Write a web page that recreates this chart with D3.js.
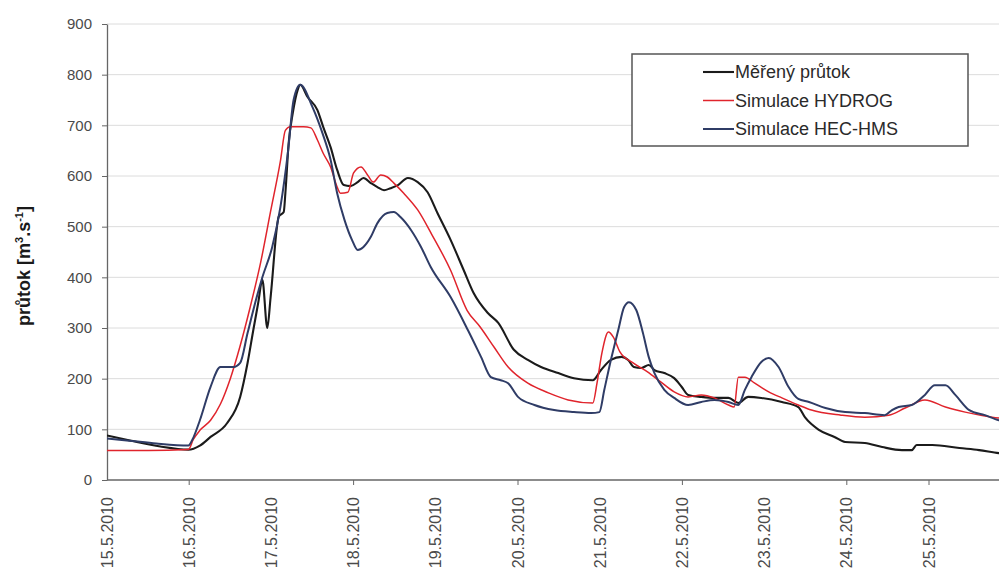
<!DOCTYPE html>
<html>
<head>
<meta charset="utf-8">
<script src="https://cdn.jsdelivr.net/npm/d3@7"></script>
<style>
  html, body { margin: 0; padding: 0; background: #ffffff; }
  svg { display: block; font-family: Arial, "Liberation Sans", sans-serif; }
</style>
</head>
<body>
<svg id="chart" width="999" height="578"></svg>
<script>
// Discharge at the gauge, 15.–25. 5. 2010: measured vs. two model simulations.
// Time is given in days since 15.5.2010 00:00, discharge in m3/s.

const dayLabels = ["15.5.2010", "16.5.2010", "17.5.2010", "18.5.2010", "19.5.2010",
  "20.5.2010", "21.5.2010", "22.5.2010", "23.5.2010", "24.5.2010", "25.5.2010"];
const tickDays = [1, 3, 5, 7, 9, 10];
const yTicks = [0, 100, 200, 300, 400, 500, 600, 700, 800, 900];

const seriesNames = ["Měřený průtok", "Simulace HYDROG", "Simulace HEC-HMS"];
const seriesColors = ["#1b1b1b", "#e0242c", "#2f3c66"];
const seriesWidths = [2.1, 1.5, 2.0];

const measured = [
  [0.00, 88], [0.28, 78], [0.65, 66], [0.99, 60], [1.13, 68], [1.26, 85], [1.46, 112],
  [1.62, 164], [1.71, 231], [1.78, 296], [1.84, 350], [1.89, 395], [1.95, 300],
  [1.99, 360], [2.09, 520], [2.15, 529], [2.17, 566], [2.21, 665], [2.26, 724],
  [2.32, 770], [2.35, 780], [2.44, 756], [2.56, 730], [2.63, 697], [2.72, 657],
  [2.80, 612], [2.88, 582], [2.96, 580], [3.05, 588], [3.12, 596], [3.21, 586],
  [3.29, 578], [3.37, 572], [3.45, 576], [3.54, 582], [3.66, 596], [3.78, 588],
  [3.90, 568], [4.02, 527], [4.18, 474], [4.34, 414], [4.46, 369], [4.63, 330],
  [4.76, 310], [4.95, 257], [5.12, 237], [5.28, 223], [5.49, 211], [5.68, 201],
  [5.91, 197], [6.01, 217], [6.13, 237], [6.26, 243], [6.34, 237], [6.41, 223],
  [6.50, 221], [6.59, 227], [6.66, 217], [6.78, 211], [6.90, 201], [6.99, 184],
  [7.07, 168], [7.23, 164], [7.39, 162], [7.56, 162], [7.68, 152], [7.80, 164],
  [7.96, 162], [8.21, 154], [8.41, 144], [8.49, 124], [8.66, 99], [8.85, 85],
  [8.98, 75], [9.22, 73], [9.43, 65], [9.67, 59], [9.79, 59], [9.85, 69],
  [10.04, 69], [10.37, 63], [10.61, 59], [10.85, 53], [11.00, 51]
];

const hydrog = [
  [0.00, 58], [0.50, 58], [0.99, 60], [1.05, 80], [1.13, 98], [1.26, 118], [1.38, 150],
  [1.50, 200], [1.62, 265], [1.74, 340], [1.87, 430], [1.99, 530], [2.11, 630],
  [2.17, 690], [2.23, 697], [2.39, 697], [2.48, 695], [2.56, 671], [2.63, 645],
  [2.72, 618], [2.80, 578], [2.84, 566], [2.93, 568], [3.00, 606], [3.09, 618],
  [3.17, 602], [3.24, 588], [3.33, 602], [3.41, 598], [3.49, 586], [3.61, 566],
  [3.78, 533], [3.95, 485], [4.18, 414], [4.38, 335], [4.54, 302], [4.71, 262],
  [4.88, 223], [5.12, 191], [5.37, 172], [5.61, 158], [5.91, 152], [5.96, 190],
  [6.02, 250], [6.10, 292], [6.16, 282], [6.24, 253], [6.40, 231], [6.58, 213],
  [6.74, 193], [6.90, 174], [7.07, 164], [7.23, 168], [7.39, 162], [7.56, 148],
  [7.63, 144], [7.68, 203], [7.76, 203], [7.88, 191], [8.05, 174], [8.21, 162],
  [8.41, 148], [8.57, 138], [8.93, 128], [9.22, 124], [9.51, 128], [9.71, 142],
  [9.95, 158], [10.20, 144], [10.44, 134], [10.77, 124], [11.00, 120]
];

const hecHms = [
  [0.00, 82], [0.30, 77], [0.60, 72], [0.99, 68], [1.04, 80], [1.13, 118], [1.26, 184],
  [1.38, 223], [1.54, 223], [1.62, 231], [1.71, 290], [1.82, 360], [1.89, 400],
  [2.01, 460], [2.11, 539], [2.20, 645], [2.27, 750], [2.35, 780], [2.50, 736],
  [2.62, 685], [2.72, 632], [2.80, 566], [2.89, 513], [2.98, 474], [3.05, 454],
  [3.12, 460], [3.21, 480], [3.29, 507], [3.41, 527], [3.49, 529], [3.57, 519],
  [3.70, 493], [3.82, 460], [3.94, 420], [4.18, 361], [4.39, 296], [4.55, 243],
  [4.67, 203], [4.79, 197], [4.88, 191], [5.00, 164], [5.20, 148], [5.44, 138],
  [5.68, 134], [5.89, 132], [5.99, 134], [6.05, 178], [6.13, 237], [6.22, 296],
  [6.29, 341], [6.35, 351], [6.44, 335], [6.52, 290], [6.59, 243], [6.66, 211],
  [6.78, 178], [6.90, 162], [7.07, 148], [7.23, 154], [7.39, 158], [7.56, 154],
  [7.68, 148], [7.76, 178], [7.84, 203], [7.96, 233], [8.05, 241], [8.17, 223],
  [8.29, 184], [8.41, 160], [8.54, 154], [8.74, 142], [8.98, 134], [9.22, 132],
  [9.46, 128], [9.55, 138], [9.63, 144], [9.79, 148], [9.95, 168], [10.07, 187],
  [10.20, 187], [10.32, 168], [10.49, 138], [10.68, 128], [10.85, 118], [11.00, 115]
];

const seriesData = [measured, hydrog, hecHms];

// ---- layout ----
const W = 999, H = 578;
const plot = { left: 107, top: 24, right: 999, bottom: 480 };

const svg = d3.select("#chart");

const x = d3.scaleLinear().domain([0, 11]).range([plot.left, plot.left + 11 * 82.2]);
const y = d3.scaleLinear().domain([0, 900]).range([plot.bottom, plot.top]);

svg.append("defs").append("clipPath").attr("id", "plotClip")
  .append("rect")
  .attr("x", plot.left).attr("y", 0)
  .attr("width", plot.right - plot.left).attr("height", plot.bottom);

// horizontal gridlines
svg.append("g").selectAll("line")
  .data(yTicks.filter(v => v > 0))
  .join("line")
  .attr("x1", plot.left).attr("x2", plot.right)
  .attr("y1", d => y(d)).attr("y2", d => y(d))
  .attr("stroke", "#dcdcdc").attr("stroke-width", 1);

// y axis
const yAxis = svg.append("g")
  .attr("transform", `translate(${plot.left},0)`)
  .call(d3.axisLeft(y).tickValues(yTicks).tickSize(5).tickPadding(10).tickSizeOuter(0));
yAxis.select(".domain").attr("stroke", "#666").attr("stroke-width", 1.3);
yAxis.selectAll(".tick line").attr("stroke", "#666");
yAxis.selectAll(".tick text")
  .attr("font-size", 15).attr("fill", "#4a4a4a")
  .attr("font-family", "Arial, 'Liberation Sans', sans-serif");

// x axis
const xAxis = svg.append("g");
xAxis.append("line")
  .attr("x1", plot.left).attr("x2", plot.right)
  .attr("y1", plot.bottom).attr("y2", plot.bottom)
  .attr("stroke", "#666").attr("stroke-width", 1.3);
xAxis.selectAll(".xtick")
  .data(tickDays)
  .join("line")
  .attr("class", "xtick")
  .attr("x1", d => x(d)).attr("x2", d => x(d))
  .attr("y1", plot.bottom).attr("y2", plot.bottom + 5)
  .attr("stroke", "#666");
xAxis.selectAll(".xlabel")
  .data(dayLabels)
  .join("text")
  .attr("class", "xlabel")
  .attr("transform", (d, i) => `translate(${x(i)},${plot.bottom + 17}) rotate(-90)`)
  .attr("dy", "0.35em")
  .attr("text-anchor", "end")
  .attr("font-size", 16)
  .attr("fill", "#4a4a4a")
  .text(d => d);

// y axis title
const yTitle = svg.append("text")
  .attr("transform", "translate(30,266) rotate(-90)")
  .attr("text-anchor", "middle")
  .attr("font-size", 18)
  .attr("font-weight", "bold")
  .attr("fill", "#1a1a1a");
yTitle.append("tspan").text("průtok [m");
yTitle.append("tspan").attr("dy", -7).attr("font-size", 11).text("3");
yTitle.append("tspan").attr("dy", 7).text(".s");
yTitle.append("tspan").attr("dy", -7).attr("font-size", 11).text("-1");
yTitle.append("tspan").attr("dy", 7).text("]");

// series lines
const line = d3.line()
  .x(d => x(d[0]))
  .y(d => y(d[1]))
  .curve(d3.curveMonotoneX);

svg.append("g").attr("clip-path", "url(#plotClip)")
  .selectAll("path")
  .data(seriesData)
  .join("path")
  .attr("d", d => line(d))
  .attr("fill", "none")
  .attr("stroke", (d, i) => seriesColors[i])
  .attr("stroke-width", (d, i) => seriesWidths[i])
  .attr("stroke-linejoin", "round");

// legend
const legend = svg.append("g");
legend.append("rect")
  .attr("x", 632).attr("y", 54).attr("width", 336).attr("height", 92)
  .attr("fill", "#ffffff").attr("stroke", "#555").attr("stroke-width", 1.5);
const rows = legend.selectAll(".row")
  .data(seriesNames)
  .join("g")
  .attr("class", "row")
  .attr("transform", (d, i) => `translate(0,${72 + i * 28.5})`);
rows.append("line")
  .attr("x1", 703).attr("x2", 734)
  .attr("stroke", (d, i) => seriesColors[i])
  .attr("stroke-width", (d, i) => seriesWidths[i]);
rows.append("text")
  .attr("x", 735).attr("dy", "0.35em")
  .attr("font-size", 18)
  .attr("fill", "#2a2a2a")
  .text(d => d);
</script>
</body>
</html>
